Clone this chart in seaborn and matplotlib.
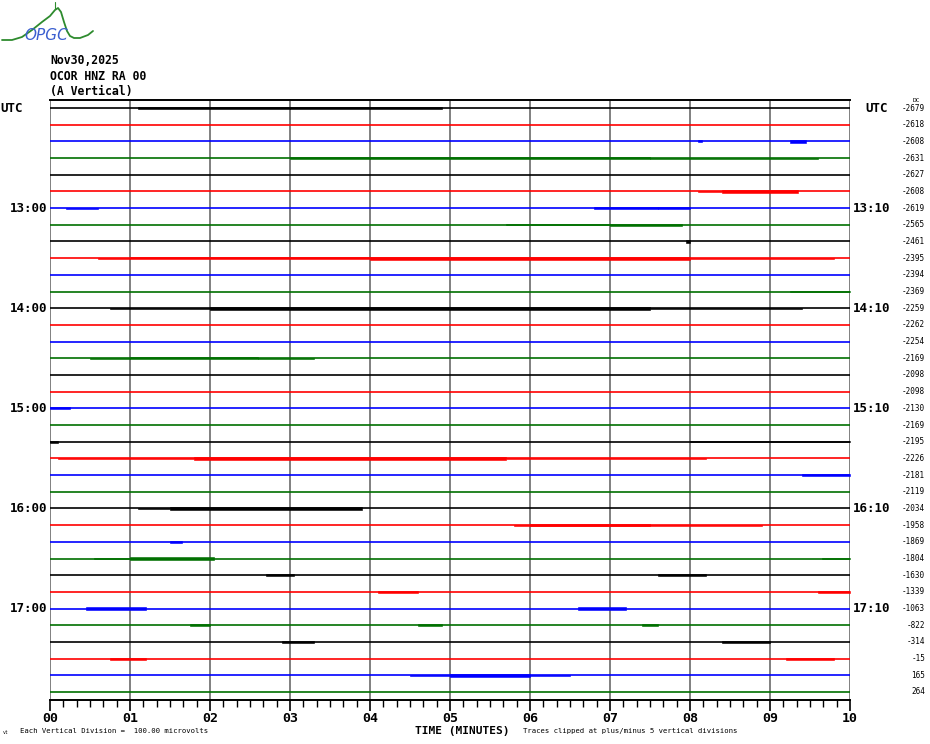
import matplotlib
matplotlib.use("Agg")
import matplotlib.pyplot as plt
import matplotlib.transforms as mtransforms
from matplotlib.lines import Line2D
import numpy as np
import pandas as pd
import seaborn as sns

# ---------------- data ----------------
n_rows = 36
trace_colors = ["#000000", "#ff0000", "#0000ff", "#007000"]
left_hour_rows = [6, 12, 18, 24, 30]
left_hour_labels = ["13:00", "14:00", "15:00", "16:00", "17:00"]
right_hour_labels = ["13:10", "14:10", "15:10", "16:10", "17:10"]
dc_values = [-2679, -2618, -2608, -2631, -2627, -2608, -2619, -2565, -2461,
             -2395, -2394, -2369, -2259, -2262, -2254, -2169, -2098, -2098,
             -2130, -2169, -2195, -2226, -2181, -2119, -2034, -1958, -1869,
             -1804, -1630, -1339, -1063, -822, -314, -15, 165, 264]
minute_ticks = list(range(11))
minute_labels = ["00", "01", "02", "03", "04", "05", "06", "07", "08", "09", "10"]

# bursts of seismic noise: row, start minute, end minute, half-amplitude (px)
burst_row = [0, 0, 2, 2, 3, 3, 3, 5, 5, 6, 6, 6, 7, 7, 8,
             9, 9, 9, 9, 11, 12, 12, 12, 15, 15, 15, 18, 20, 20,
             21, 21, 21, 22, 24, 24, 25, 25, 26, 27, 27, 27, 28, 28,
             29, 29, 30, 30, 31, 31, 31, 32, 32, 33, 33, 34, 34]
burst_start = [1.1, 3.0, 8.1, 9.25, 3.0, 4.0, 7.5, 8.1, 8.4, 0.2, 6.8, 7.6, 5.7, 7.0, 7.95,
               0.6, 1.0, 4.0, 8.0, 9.25, 0.75, 2.0, 7.5, 0.5, 1.0, 2.6, 0.0, 0.0, 8.0,
               0.1, 1.8, 5.7, 9.4, 1.1, 1.5, 5.8, 6.0, 1.5, 0.55, 1.0, 9.65, 2.7, 7.6,
               4.1, 9.6, 0.45, 6.6, 1.75, 4.6, 7.4, 2.9, 8.4, 0.75, 9.2, 4.5, 5.0]
burst_end = [3.0, 4.9, 8.15, 9.45, 4.0, 7.5, 9.6, 8.4, 9.35, 0.6, 7.6, 8.0, 7.0, 7.9, 8.0,
             1.0, 4.0, 8.0, 9.8, 10.0, 2.0, 7.5, 9.4, 1.0, 2.6, 3.3, 0.25, 0.1, 10.0,
             1.8, 5.7, 8.2, 10.0, 1.5, 3.9, 8.9, 7.5, 1.65, 1.0, 2.05, 10.0, 3.05, 8.2,
             4.6, 10.0, 1.2, 7.2, 2.0, 4.9, 7.6, 3.3, 9.0, 1.2, 9.8, 6.5, 6.0]
burst_amp = [1.0, 1.8, 1.5, 2.0, 0.8, 1.2, 0.6, 1.0, 1.8, 0.6, 1.0, 1.6, 0.8, 1.5, 1.5,
             0.8, 1.2, 1.8, 0.8, 1.2, 0.8, 1.8, 0.8, 0.7, 1.6, 0.6, 1.2, 1.2, 0.5,
             0.8, 1.8, 0.8, 1.2, 0.7, 1.5, 0.8, 1.6, 1.5, 0.7, 1.5, 1.2, 1.6, 1.6,
             1.0, 1.4, 1.5, 1.5, 1.4, 1.4, 1.2, 1.4, 1.5, 1.4, 1.5, 0.8, 1.6]

# ---------------- figure ----------------
sns.set_theme(style="white")
plt.rcParams["font.family"] = ["DejaVu Sans Mono", "DejaVu Sans"]
plt.rcParams["text.color"] = "black"
plt.rcParams["xtick.color"] = "black"
plt.rcParams["xtick.labelcolor"] = "black"

W, H = 930, 744
fig = plt.figure(figsize=(9.3, 7.44), dpi=100)
ax = fig.add_axes([50 / W, 1 - 700 / H, 800 / W, 600 / H])

row_px = 584 / 35.0
ax.set_xlim(0, 10)
ax.set_ylim(35 + (700 - 692) / row_px, -(108 - 100) / row_px)

# baselines through seaborn
base = pd.DataFrame({
    "minute": np.repeat([[0.0, 10.0]], n_rows, axis=0).ravel(),
    "row": np.repeat(np.arange(n_rows), 2),
})
base["y"] = base["row"].astype(float)
palette = {r: trace_colors[r % 4] for r in range(n_rows)}
sns.lineplot(data=base, x="minute", y="y", hue="row", palette=palette,
             units="row", estimator=None, sort=False, legend=False,
             linewidth=1.2, ax=ax, zorder=3)

# noise bursts
for r, s, e, a in zip(burst_row, burst_start, burst_end, burst_amp):
    h = 0.75 * a / row_px
    ax.fill_between([s, e], [r - h, r - h], [r + h, r + h],
                    color=trace_colors[r % 4], linewidth=0.4, zorder=3)

# vertical minute grid
for m in minute_ticks:
    ax.axvline(m, color="#808080", linewidth=1.4, zorder=2)

# spines / ticks
for side in ["left", "right"]:
    ax.spines[side].set_visible(False)
ax.spines["top"].set_visible(True)
ax.spines["top"].set_color("black")
ax.spines["top"].set_linewidth(1.4)
ax.spines["bottom"].set_color("black")
ax.spines["bottom"].set_linewidth(1.4)
ax.set_yticks([])
ax.set_xticks(minute_ticks)
ax.set_xticklabels(minute_labels, fontweight="bold", fontsize=9.5)
ax.set_xticks(np.arange(0, 10.0001, 1 / 6), minor=True)
ax.tick_params(axis="x", which="major", direction="out", length=8, width=1.2,
               color="black", pad=1, bottom=True)
ax.tick_params(axis="x", which="minor", direction="out", length=5, width=1.0,
               color="black", bottom=True)
ax.set_xlabel("")
ax.set_ylabel("")
ax.grid(False)

# labels
trans = mtransforms.blended_transform_factory(ax.transAxes, ax.transData)
for r, lab, rlab in zip(left_hour_rows, left_hour_labels, right_hour_labels):
    ax.text(-0.003, r, lab, transform=trans, ha="right", va="center",
            fontsize=9, fontweight="bold")
    ax.text(1.003, r, rlab, transform=trans, ha="left", va="center",
            fontsize=9, fontweight="bold")
ax.text(-0.0625, 0, "UTC", transform=trans, ha="left", va="center",
        fontsize=9, fontweight="bold")
ax.text(1.019, 0, "UTC", transform=trans, ha="left", va="center",
        fontsize=9, fontweight="bold")
for r, v in enumerate(dc_values):
    ax.text(1.094, r, f"{v}", transform=trans, ha="right", va="center",
            fontsize=5.5)
ax.text(1.083, -0.45, "DC", transform=trans, ha="center", va="center",
        fontsize=4.5)

# header
fig.text(50 / W, 1 - 61 / H, "Nov30,2025", ha="left", va="center",
         fontsize=8.3, fontweight="bold")
fig.text(50 / W, 1 - 76 / H, "OCOR HNZ RA 00", ha="left", va="center",
         fontsize=8.3, fontweight="bold")
fig.text(50 / W, 1 - 91 / H, "(A Vertical)", ha="left", va="center",
         fontsize=8.3, fontweight="bold")

# footer
fig.text(462 / W, 1 - 731 / H, "TIME (MINUTES)", ha="center", va="center",
         fontsize=8, fontweight="bold")
fig.text(20 / W, 1 - 731 / H, "Each Vertical Division =  100.00 microvolts",
         ha="left", va="center", fontsize=5.2)
fig.text(523 / W, 1 - 731 / H,
         "Traces clipped at plus/minus 5 vertical divisions",
         ha="left", va="center", fontsize=5.2)
fig.text(3 / W, 1 - 733 / H, "vt", ha="left", va="center", fontsize=3.5)

# logo
lx = [2, 12, 22, 32, 42, 50, 55, 58, 61, 64, 67, 70, 74, 80, 88, 93]
ly = [40, 40, 37, 30, 22, 16, 10, 8, 12, 22, 31, 36, 38, 38, 35, 31]
fig.add_artist(Line2D([x / W for x in lx], [1 - y / H for y in ly],
                      transform=fig.transFigure, color="#2e8b2e", linewidth=1.3))
fig.add_artist(Line2D([55 / W, 55 / W], [1 - 2 / H, 1 - 9 / H],
                      transform=fig.transFigure, color="#2e8b2e", linewidth=0.8))
fig.text(46 / W, 1 - 35 / H, "OPGC", ha="center", va="center", fontsize=11,
         style="italic", color="#3b5fd0", family="DejaVu Sans")

fig.savefig("out.png", dpi=100)
